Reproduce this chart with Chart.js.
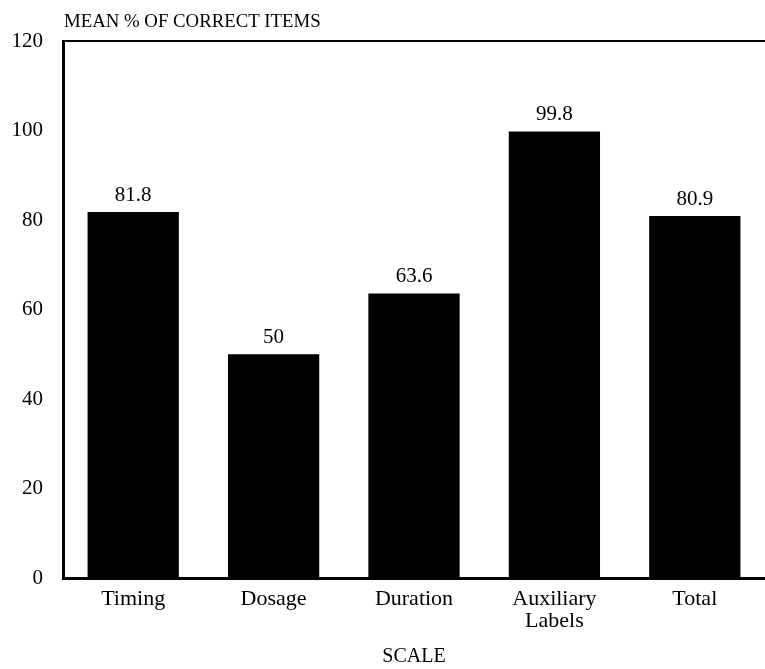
<!DOCTYPE html>
<html>
<head>
<meta charset="utf-8">
<script src="https://cdn.jsdelivr.net/npm/chart.js@4.4.1/dist/chart.umd.min.js"></script>
<style>
  html, body { margin: 0; padding: 0; background: #fff; }
  #wrap { width: 765px; height: 669px; }
</style>
</head>
<body>
<div id="wrap"><canvas id="barChart"></canvas></div>
<script>
// data
const categories = ["Timing", "Dosage", "Duration", ["Auxiliary", "Labels"], "Total"];
const meanCorrect = [81.8, 50, 63.6, 99.8, 80.9];
const yTicks = [0, 20, 40, 60, 80, 100, 120];

const serif = "'Liberation Serif', 'Times New Roman', serif";

// value on top of each bar + the y title written horizontally above the axis
const barLabels = {
    id: "barLabels",
    afterDatasetsDraw(chart) {
        const ctx = chart.ctx;
        const meta = chart.getDatasetMeta(0);
        ctx.save();
        ctx.fillStyle = "#000";
        ctx.font = "21px " + serif;
        ctx.textAlign = "center";
        ctx.textBaseline = "bottom";
        meta.data.forEach((bar, i) => {
            ctx.fillText(String(meanCorrect[i]), bar.x, bar.y - 6);
        });
        ctx.font = "18.8px " + serif;
        ctx.textAlign = "left";
        ctx.textBaseline = "alphabetic";
        ctx.fillText("MEAN % OF CORRECT ITEMS", chart.chartArea.left + 1, chart.chartArea.top - 14);
        ctx.restore();
    }
};

new Chart(document.getElementById("barChart"), {
    type: "bar",
    data: {
        labels: categories,
        datasets: [{
            data: meanCorrect,
            backgroundColor: "#000",
            borderWidth: 0,
            barPercentage: 0.65,
            categoryPercentage: 1.0
        }]
    },
    options: {
        responsive: true,
        maintainAspectRatio: false,
        animation: false,
        layout: { padding: { top: 41, right: 0, bottom: 0, left: 10 } },
        plugins: {
            legend: { display: false },
            tooltip: { enabled: false }
        },
        scales: {
            x: {
                grid: { display: false, drawTicks: false },
                border: { display: true, color: "#000", width: 3 },
                ticks: { color: "#000", font: { family: serif, size: 22, lineHeight: 1.0 }, padding: 10, maxRotation: 0 },
                title: { display: true, text: "SCALE", color: "#000", font: { family: serif, size: 20 }, padding: { top: 3, bottom: 0 } }
            },
            xTop: {
                position: "top",
                grid: { display: false, drawTicks: false },
                border: { display: true, color: "#000", width: 2 },
                ticks: { display: false }
            },
            y: {
                min: 0,
                max: 120,
                afterBuildTicks(axis) {
                    axis.ticks = yTicks.map(v => ({ value: v }));
                },
                afterFit(axis) {
                    axis.width = 53;
                },
                grid: { display: false, drawTicks: false },
                border: { display: true, color: "#000", width: 3 },
                ticks: { color: "#000", font: { family: serif, size: 21 }, padding: 20 }
            }
        }
    },
    plugins: [barLabels]
});
</script>
</body>
</html>
